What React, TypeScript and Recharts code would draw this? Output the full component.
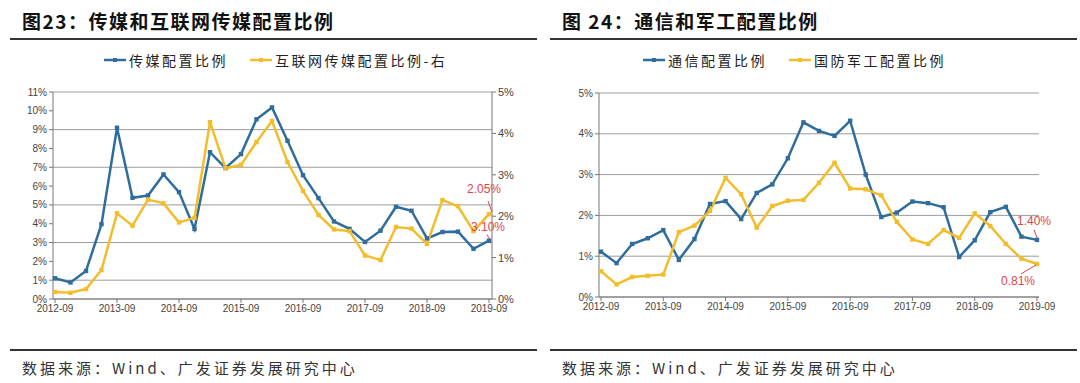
import React from 'react';
import { LineChart, Line, XAxis, YAxis, CartesianGrid, LabelList } from 'recharts';

const dates = [
  '2012-09', '2012-12', '2013-03', '2013-06', '2013-09', '2013-12', '2014-03', '2014-06',
  '2014-09', '2014-12', '2015-03', '2015-06', '2015-09', '2015-12', '2016-03', '2016-06',
  '2016-09', '2016-12', '2017-03', '2017-06', '2017-09', '2017-12', '2018-03', '2018-06',
  '2018-09', '2018-12', '2019-03', '2019-06', '2019-09',
];

// 图23
const mediaShare = [
  1.1, 0.88, 1.49, 3.98, 9.1, 5.38, 5.5, 6.62, 5.68, 3.72, 7.8, 6.96, 7.7, 9.55, 10.18,
  8.41, 6.58, 5.36, 4.12, 3.73, 3.03, 3.63, 4.9, 4.69, 3.22, 3.56, 3.58, 2.67, 3.1,
];
const internetMediaShare = [
  0.17, 0.15, 0.24, 0.7, 2.07, 1.77, 2.4, 2.31, 1.85, 1.96, 4.27, 3.16, 3.24, 3.79, 4.3,
  3.31, 2.61, 2.03, 1.68, 1.64, 1.05, 0.94, 1.74, 1.7, 1.33, 2.39, 2.24, 1.64, 2.05,
];

// 图24
const telecomShare = [
  1.11, 0.83, 1.3, 1.44, 1.64, 0.91, 1.42, 2.28, 2.35, 1.91, 2.55, 2.76, 3.4, 4.28, 4.07,
  3.95, 4.32, 3.0, 1.96, 2.07, 2.34, 2.3, 2.2, 0.98, 1.39, 2.08, 2.21, 1.48, 1.4,
];
const defenseShare = [
  0.63, 0.31, 0.49, 0.52, 0.55, 1.59, 1.75, 2.11, 2.92, 2.52, 1.7, 2.23, 2.36, 2.38, 2.8,
  3.29, 2.66, 2.64, 2.49, 1.84, 1.41, 1.3, 1.64, 1.45, 2.05, 1.74, 1.3, 0.94, 0.81,
];

const leftTicks = [0, 1, 2, 3, 4, 5, 6, 7, 8, 9, 10, 11];
const fiveTicks = [0, 1, 2, 3, 4, 5];

const BLUE = '#2f6d9d';
const YELLOW = '#f2bc2b';
const RED = '#e2434b';
const SANS = '"Liberation Sans", Arial, sans-serif';
const CJK = '"Noto Sans CJK SC", sans-serif';

const chart1 = dates.map((d, i) => ({ date: d, a: mediaShare[i], b: internetMediaShare[i] }));
const chart2 = dates.map((d, i) => ({ date: d, a: telecomShare[i], b: defenseShare[i] }));
const last = dates.length - 1;

const pct = (v: number) => `${v}%`;
const tickStyle = { fontSize: 10, fill: '#444', fontFamily: SANS };

function squareDot(color: string) {
  return (p: any) => (
    <rect key={p.index} x={p.cx - 2.2} y={p.cy - 2.2} width={4.4} height={4.4} fill={color} />
  );
}

// label + pointer line at the last point
function endNote(text: string, tx: number, ty: number, l: [number, number, number, number]) {
  return (p: any) => {
    if (p.index !== last) return null;
    const x = Number(p.x);
    const y = Number(p.y);
    return (
      <g>
        <line x1={x + l[0]} y1={y + l[1]} x2={x + l[2]} y2={y + l[3]} stroke={RED} strokeWidth={1} />
        <text x={x + tx} y={y + ty} fill={RED} fontSize={12} fontFamily={SANS} textAnchor="middle" dominantBaseline="central">
          {text}
        </text>
      </g>
    );
  };
}

function LegendItem({ color, label }: { color: string; label: string }) {
  return (
    <span style={{ display: 'inline-flex', alignItems: 'center', marginRight: 22 }}>
      <svg width={22} height={8} style={{ marginRight: 3 }}>
        <line x1={0} y1={4} x2={22} y2={4} stroke={color} strokeWidth={2.5} />
        <rect x={9} y={2} width={4} height={4} fill={color} />
      </svg>
      <span>{label}</span>
    </span>
  );
}

function Panel({ left, title, legend, source }: { left: number; title: string; legend: React.ReactNode; source: string }) {
  return (
    <>
      <div style={{ position: 'absolute', left: left + 22, top: 8, fontFamily: CJK, fontWeight: 700, fontSize: 19, letterSpacing: 1.5, color: '#111', lineHeight: '26px', whiteSpace: 'nowrap' }}>
        {title}
      </div>
      <div style={{ position: 'absolute', left: left + 10, top: 38, width: 527, height: 2, background: '#333' }} />
      <div style={{ position: 'absolute', left: left, top: 50, width: 540, fontFamily: CJK, fontSize: 14, letterSpacing: 2.5, color: '#222', lineHeight: '20px' }}>
        {legend}
      </div>
      <div style={{ position: 'absolute', left: left + 10, top: 349, width: 527, height: 2, background: '#333' }} />
      <div style={{ position: 'absolute', left: left + 22, top: 358, fontFamily: CJK, fontSize: 15, letterSpacing: 3, color: '#333', lineHeight: '20px', whiteSpace: 'nowrap' }}>
        {source}
      </div>
    </>
  );
}

export default function App() {
  return (
    <div style={{ position: 'fixed', left: 0, top: 0, width: 1080, height: 383, background: '#fff', overflow: 'hidden' }}>
      <Panel
        left={0}
        title="图23：传媒和互联网传媒配置比例"
        source="数据来源：Wind、广发证券发展研究中心"
        legend={
          <div style={{ position: 'absolute', left: 104, display: 'flex', whiteSpace: 'nowrap' }}>
            <LegendItem color={BLUE} label="传媒配置比例" />
            <LegendItem color={YELLOW} label="互联网传媒配置比例-右" />
          </div>
        }
      />
      <Panel
        left={540}
        title="图 24：通信和军工配置比例"
        source="数据来源：Wind、广发证券发展研究中心"
        legend={
          <div style={{ position: 'absolute', left: 103, display: 'flex', whiteSpace: 'nowrap' }}>
            <LegendItem color={BLUE} label="通信配置比例" />
            <LegendItem color={YELLOW} label="国防军工配置比例" />
          </div>
        }
      />

      <div style={{ position: 'absolute', left: 0, top: 0 }}>
        <LineChart width={540} height={330} data={chart1} margin={{ top: 92, right: 8, bottom: 1, left: 8 }}>
          <CartesianGrid vertical={false} stroke="#9c9c9c" yAxisId="l" />
          <XAxis dataKey="date" interval={3} tick={tickStyle} tickSize={4} stroke="#777" height={30} padding={{ left: 2, right: 3 }} />
          <YAxis yAxisId="l" domain={[0, 11]} ticks={leftTicks} tickFormatter={pct} tick={tickStyle} tickSize={4} stroke="#777" width={45} />
          <YAxis yAxisId="r" orientation="right" domain={[0, 5]} ticks={fiveTicks} tickFormatter={pct} tick={{ ...tickStyle, fontSize: 11 }} tickSize={4} stroke="#777" width={40} />
          <Line yAxisId="l" dataKey="a" stroke={BLUE} strokeWidth={2.5} dot={squareDot(BLUE)} isAnimationActive={false}>
            <LabelList dataKey="a" content={endNote('3.10%', -1, -14, [-2, -6, 1, -1])} />
          </Line>
          <Line yAxisId="r" dataKey="b" stroke={YELLOW} strokeWidth={2.5} dot={squareDot(YELLOW)} isAnimationActive={false}>
            <LabelList dataKey="b" content={endNote('2.05%', -5, -25, [-1, -13, 3, -2])} />
          </Line>
        </LineChart>
      </div>

      <div style={{ position: 'absolute', left: 540, top: 0 }}>
        <LineChart width={540} height={330} data={chart2} margin={{ top: 93, right: 41, bottom: 3, left: 14 }}>
          <CartesianGrid vertical={false} stroke="#9c9c9c" />
          <XAxis dataKey="date" interval={3} tick={tickStyle} tickSize={4} stroke="#777" height={30} padding={{ left: 2, right: 2 }} />
          <YAxis domain={[0, 5]} ticks={fiveTicks} tickFormatter={pct} tick={tickStyle} tickSize={4} stroke="#777" width={45} />
          <Line dataKey="a" stroke={BLUE} strokeWidth={2.5} dot={squareDot(BLUE)} isAnimationActive={false}>
            <LabelList dataKey="a" content={endNote('1.40%', -3, -19, [-3, -10, 0, -2])} />
          </Line>
          <Line dataKey="b" stroke={YELLOW} strokeWidth={2.5} dot={squareDot(YELLOW)} isAnimationActive={false}>
            <LabelList dataKey="b" content={endNote('0.81%', -19, 17, [-16, 10, -1, 1])} />
          </Line>
        </LineChart>
      </div>
    </div>
  );
}
